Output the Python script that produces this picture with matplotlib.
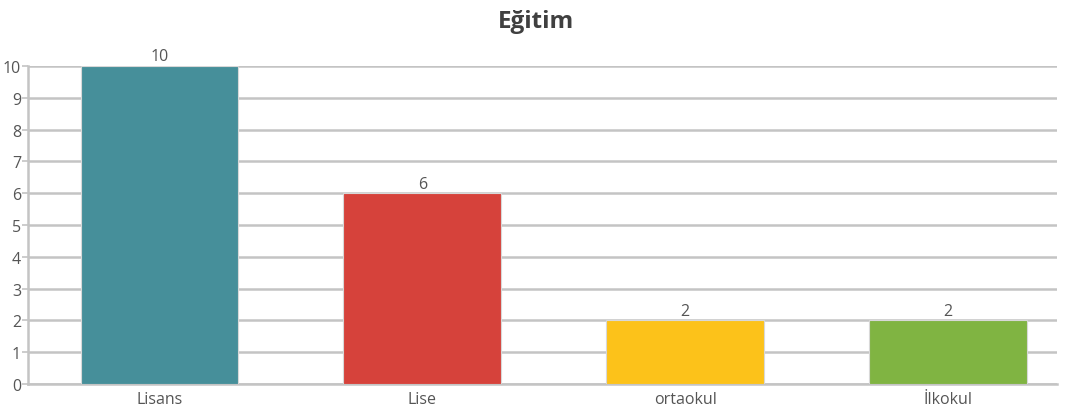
import matplotlib
matplotlib.use("Agg")
import matplotlib.pyplot as plt

plt.rcParams['font.family'] = ['Open Sans', 'DejaVu Sans']

categories = ['Lisans', 'Lise', 'ortaokul', 'İlkokul']
values = [10, 6, 2, 2]
colors = ['#468f9a', '#d6423b', '#fcc21a', '#80b442']
yticks = list(range(0, 11))

W, H = 1071, 414
fig = plt.figure(figsize=(W / 100, H / 100), dpi=100)
ax = fig.add_axes([28 / W, 1 - 385 / H, (1057 - 28) / W, (385 - 67) / H])

ax.bar(range(len(categories)), values, width=0.6, color=colors,
       edgecolor='#d8d8d8', linewidth=0.8, zorder=3)
for i, v in enumerate(values):
    ax.text(i, v + 0.05, str(v), ha='center', va='bottom',
            fontsize=11.5, color='#555555')

ax.set_xlim(-0.5, 3.415)
ax.set_ylim(0, 10)
ax.set_yticks(yticks)
ax.set_xticks(range(len(categories)))
ax.set_xticklabels(categories)
ax.grid(axis='y', color='#c4c4c4', linewidth=1.8, zorder=0)
for s in ['top', 'right']:
    ax.spines[s].set_visible(False)
ax.spines['left'].set_color('#c4c4c4')
ax.spines['left'].set_linewidth(1.8)
ax.spines['bottom'].set_color('#c4c4c4')
ax.spines['bottom'].set_linewidth(1.8)
ax.tick_params(axis='y', length=4, color='#c4c4c4', width=1.2,
               labelsize=11.5, labelcolor='#555555', pad=1)
ax.tick_params(axis='x', length=0, labelsize=11.5, labelcolor='#555555', pad=5)

fig.suptitle('Eğitim', x=0.5, y=0.975, fontsize=17.5, fontweight='bold',
             color='#404040')

fig.savefig('out.png', dpi=100)
